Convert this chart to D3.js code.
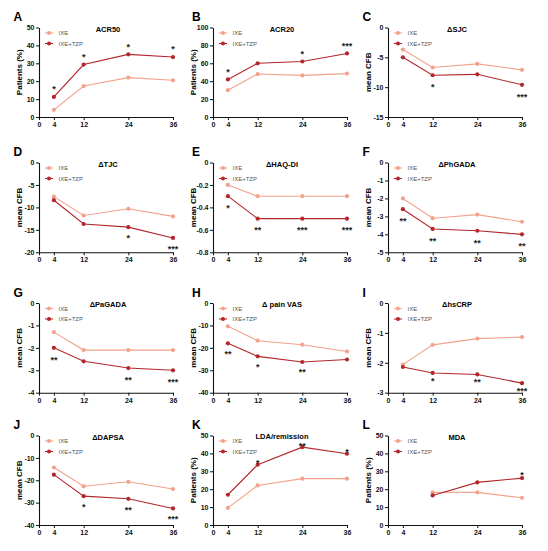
<!DOCTYPE html>
<html><head><meta charset="utf-8">
<script src="https://cdn.jsdelivr.net/npm/d3@7"></script>
<style>body{margin:0;background:#fff}svg{display:block}text{font-family:Arial,"Liberation Sans",sans-serif}</style>
</head><body>
<svg id="c" width="548" height="551"></svg>
<script>
const weeks = [4, 12, 24, 36];
const xTicks = [0, 4, 12, 24, 36];
const seriesNames = ["IXE", "IXE+TZP"];
const panelLetters = ["A","B","C","D","E","F","G","H","I","J","K","L"];
const panelTitles = ["ACR50","ACR20","ΔSJC","ΔTJC","ΔHAQ-DI","ΔPhGADA","ΔPaGADA","Δ pain VAS","ΔhsCRP","ΔDAPSA","LDA/remission","MDA"];
const yLabels = ["Patients (%)","Patients (%)","mean CFB","mean CFB","mean CFB","mean CFB","mean CFB","mean CFB","mean CFB","mean CFB","Patients (%)","Patients (%)"];

const ixeA = [4, 17.3, 22, 20.5],   tzpA = [11.2, 29.3, 35, 33.5],  sigA = ["*","*","*","*"];
const ixeB = [30, 48, 46.5, 48.5],  tzpB = [42, 60, 62, 71],        sigB = ["*","","*","***"];
const ixeC = [-3.7, -6.7, -6.1, -7.1], tzpC = [-5.0, -8.0, -7.85, -9.6], sigC = ["","*","","***"];
const ixeD = [-7.6, -11.8, -10.3, -12.0], tzpD = [-8.4, -13.7, -14.4, -16.8], sigD = ["","","*","***"];
const ixeE = [-0.2, -0.3, -0.3, -0.3], tzpE = [-0.3, -0.5, -0.5, -0.5], sigE = ["*","**","***","***"];
const ixeF = [-2.0, -3.1, -2.9, -3.3], tzpF = [-2.6, -3.7, -3.8, -4.0], sigF = ["**","**","**","**"];
const ixeG = [-1.3, -2.1, -2.1, -2.1], tzpG = [-2.0, -2.6, -2.9, -3.0], sigG = ["**","","**","***"];
const ixeH = [-10.4, -16.8, -18.6, -21.6], tzpH = [-18.0, -23.8, -26.3, -25.2], sigH = ["**","*","**",""];
const ixeI = [-2.06, -1.4, -1.19, -1.14], tzpI = [-2.14, -2.34, -2.39, -2.68], sigI = ["","*","**","***"];
const ixeJ = [-14.3, -22.7, -20.7, -23.9], tzpJ = [-17.5, -27.1, -28.3, -32.6], sigJ = ["","*","**","***"];
const ixeK = [9.6, 22.1, 25.9, 25.9], tzpK = [16.9, 33.7, 43.5, 39.8], sigK = ["","*","**","*"];
const ixeL = [null, 18.2, 18.2, 15.2], tzpL = [null, 16.5, 23.8, 26.2], sigL = ["","","","*"];

const yDomains = [[0,50],[0,100],[-15,0],[-20,0],[-0.8,0],[-5,0],[-4,0],[-40,0],[-3,0],[-40,0],[0,50],[0,50]];
const yTickVals = [
  [0,10,20,30,40,50],[0,20,40,60,80,100],[0,-5,-10,-15],[0,-5,-10,-15,-20],
  [0,-0.2,-0.4,-0.6,-0.8],[0,-1,-2,-3,-4,-5],[0,-1,-2,-3,-4],[0,-10,-20,-30,-40],
  [0,-1,-2,-3],[0,-10,-20,-30,-40],[0,10,20,30,40,50],[0,10,20,30,40,50]];

const ixeAll = [ixeA,ixeB,ixeC,ixeD,ixeE,ixeF,ixeG,ixeH,ixeI,ixeJ,ixeK,ixeL];
const tzpAll = [tzpA,tzpB,tzpC,tzpD,tzpE,tzpF,tzpG,tzpH,tzpI,tzpJ,tzpK,tzpL];
const sigAll = [sigA,sigB,sigC,sigD,sigE,sigF,sigG,sigH,sigI,sigJ,sigK,sigL];
// layout / style (not data): signed pixel offset of the significance marks from the TZP point
const sigOffset = [-10,-10,9.5,8.5,9.3,9.5,9.3,8,5.5,8.5,-3.8,-6];
const titleDy = [4.2,4.2,4.2,4.2,4.2,4.2,4.2,4.2,4.2,4.2,3,4.2];

const colX = [39, 213, 388];
const rowTop = [27.5, 162.5, 303, 435.5];
const rowBot = [117, 252.3, 392.7, 525];
const plotW = 134;
const cLight = "#F3A28C", cDark = "#B3262B";

const svg = d3.select("#c");
const fmt = v => String(Math.round(v*100)/100).replace("−","-");

panelLetters.forEach((L, i) => {
  const r = Math.floor(i/3), c = i%3;
  const x0 = colX[c], top = rowTop[r], bot = rowBot[r];
  const g = svg.append("g");
  const x = d3.scaleLinear().domain([0,36]).range([x0, x0+plotW]);
  const y = d3.scaleLinear().domain(yDomains[i]).range([bot, top]);

  g.append("text").attr("x", x0 - (c===1?21:25.5)).attr("y", top - 6.5)
    .attr("font-size", 12).attr("font-weight", "bold").attr("text-anchor","start").text(L);
  g.append("text").attr("x", x0 + 69).attr("y", top + titleDy[i]).attr("text-anchor","middle")
    .attr("font-size", 7.5).attr("font-weight","bold").text(panelTitles[i]);
  g.append("text").attr("transform", `translate(${x0-17.5},${(top+bot)/2}) rotate(-90)`)
    .attr("text-anchor","middle").attr("font-size", 8).attr("font-weight","bold").text(yLabels[i]);

  const yAxis = d3.axisLeft(y).tickValues(yTickVals[i]).tickSize(3).tickSizeOuter(0).tickFormat(fmt);
  const ya = g.append("g").attr("transform", `translate(${x0},0)`).call(yAxis);
  const xAxis = d3.axisBottom(x).tickValues(xTicks).tickSize(3).tickSizeOuter(0).tickFormat(d3.format("d"));
  const xa = g.append("g").attr("transform", `translate(0,${bot})`).call(xAxis);
  [ya, xa].forEach(a => {
    a.selectAll("path.domain").attr("stroke","#111").attr("stroke-width",1.1);
    a.selectAll(".tick line").attr("stroke","#111").attr("stroke-width",1);
    a.selectAll(".tick text").attr("font-size",7).attr("font-weight","bold").attr("fill","#111")
      .style("font-family","Arial, 'Liberation Sans', sans-serif");
  });
  ya.selectAll(".tick text").attr("x",-4.5);
  xa.selectAll(".tick text").attr("y",5);

  const series = [[ixeAll[i], cLight], [tzpAll[i], cDark]];
  series.forEach(([vals, col]) => {
    const pts = weeks.map((w,k)=>[w, vals[k]]).filter(p => p[1] !== null);
    const line = d3.line().x(d=>x(d[0])).y(d=>y(d[1]));
    g.append("path").attr("d", line(pts)).attr("fill","none").attr("stroke",col).attr("stroke-width",1.1);
    g.selectAll(null).data(pts).enter().append("circle")
      .attr("cx", d=>x(d[0])).attr("cy", d=>y(d[1])).attr("r", 2.1).attr("fill", col);
  });

  sigAll[i].forEach((s,k) => {
    if (!s) return;
    const v = tzpAll[i][k];
    const cy = y(v) + sigOffset[i];
    g.append("text").attr("x", x(weeks[k])).attr("y", cy + 5.4).attr("text-anchor","middle")
      .attr("font-size", 9).attr("font-weight","bold").attr("fill","#222").text(s);
  });

  const lx = x0 + 10;
  seriesNames.forEach((n, k) => {
    const ly = top + 5.5 + k*10.5;
    const col = k===0 ? cLight : cDark;
    g.append("line").attr("x1", lx-4).attr("x2", lx+4).attr("y1", ly).attr("y2", ly).attr("stroke", col).attr("stroke-width",1.1);
    g.append("circle").attr("cx", lx).attr("cy", ly).attr("r", 2).attr("fill", col);
    g.append("text").attr("x", lx+9.5).attr("y", ly+2).attr("font-size", 6).attr("fill","#555").text(n);
  });
});
</script>
</body></html>
